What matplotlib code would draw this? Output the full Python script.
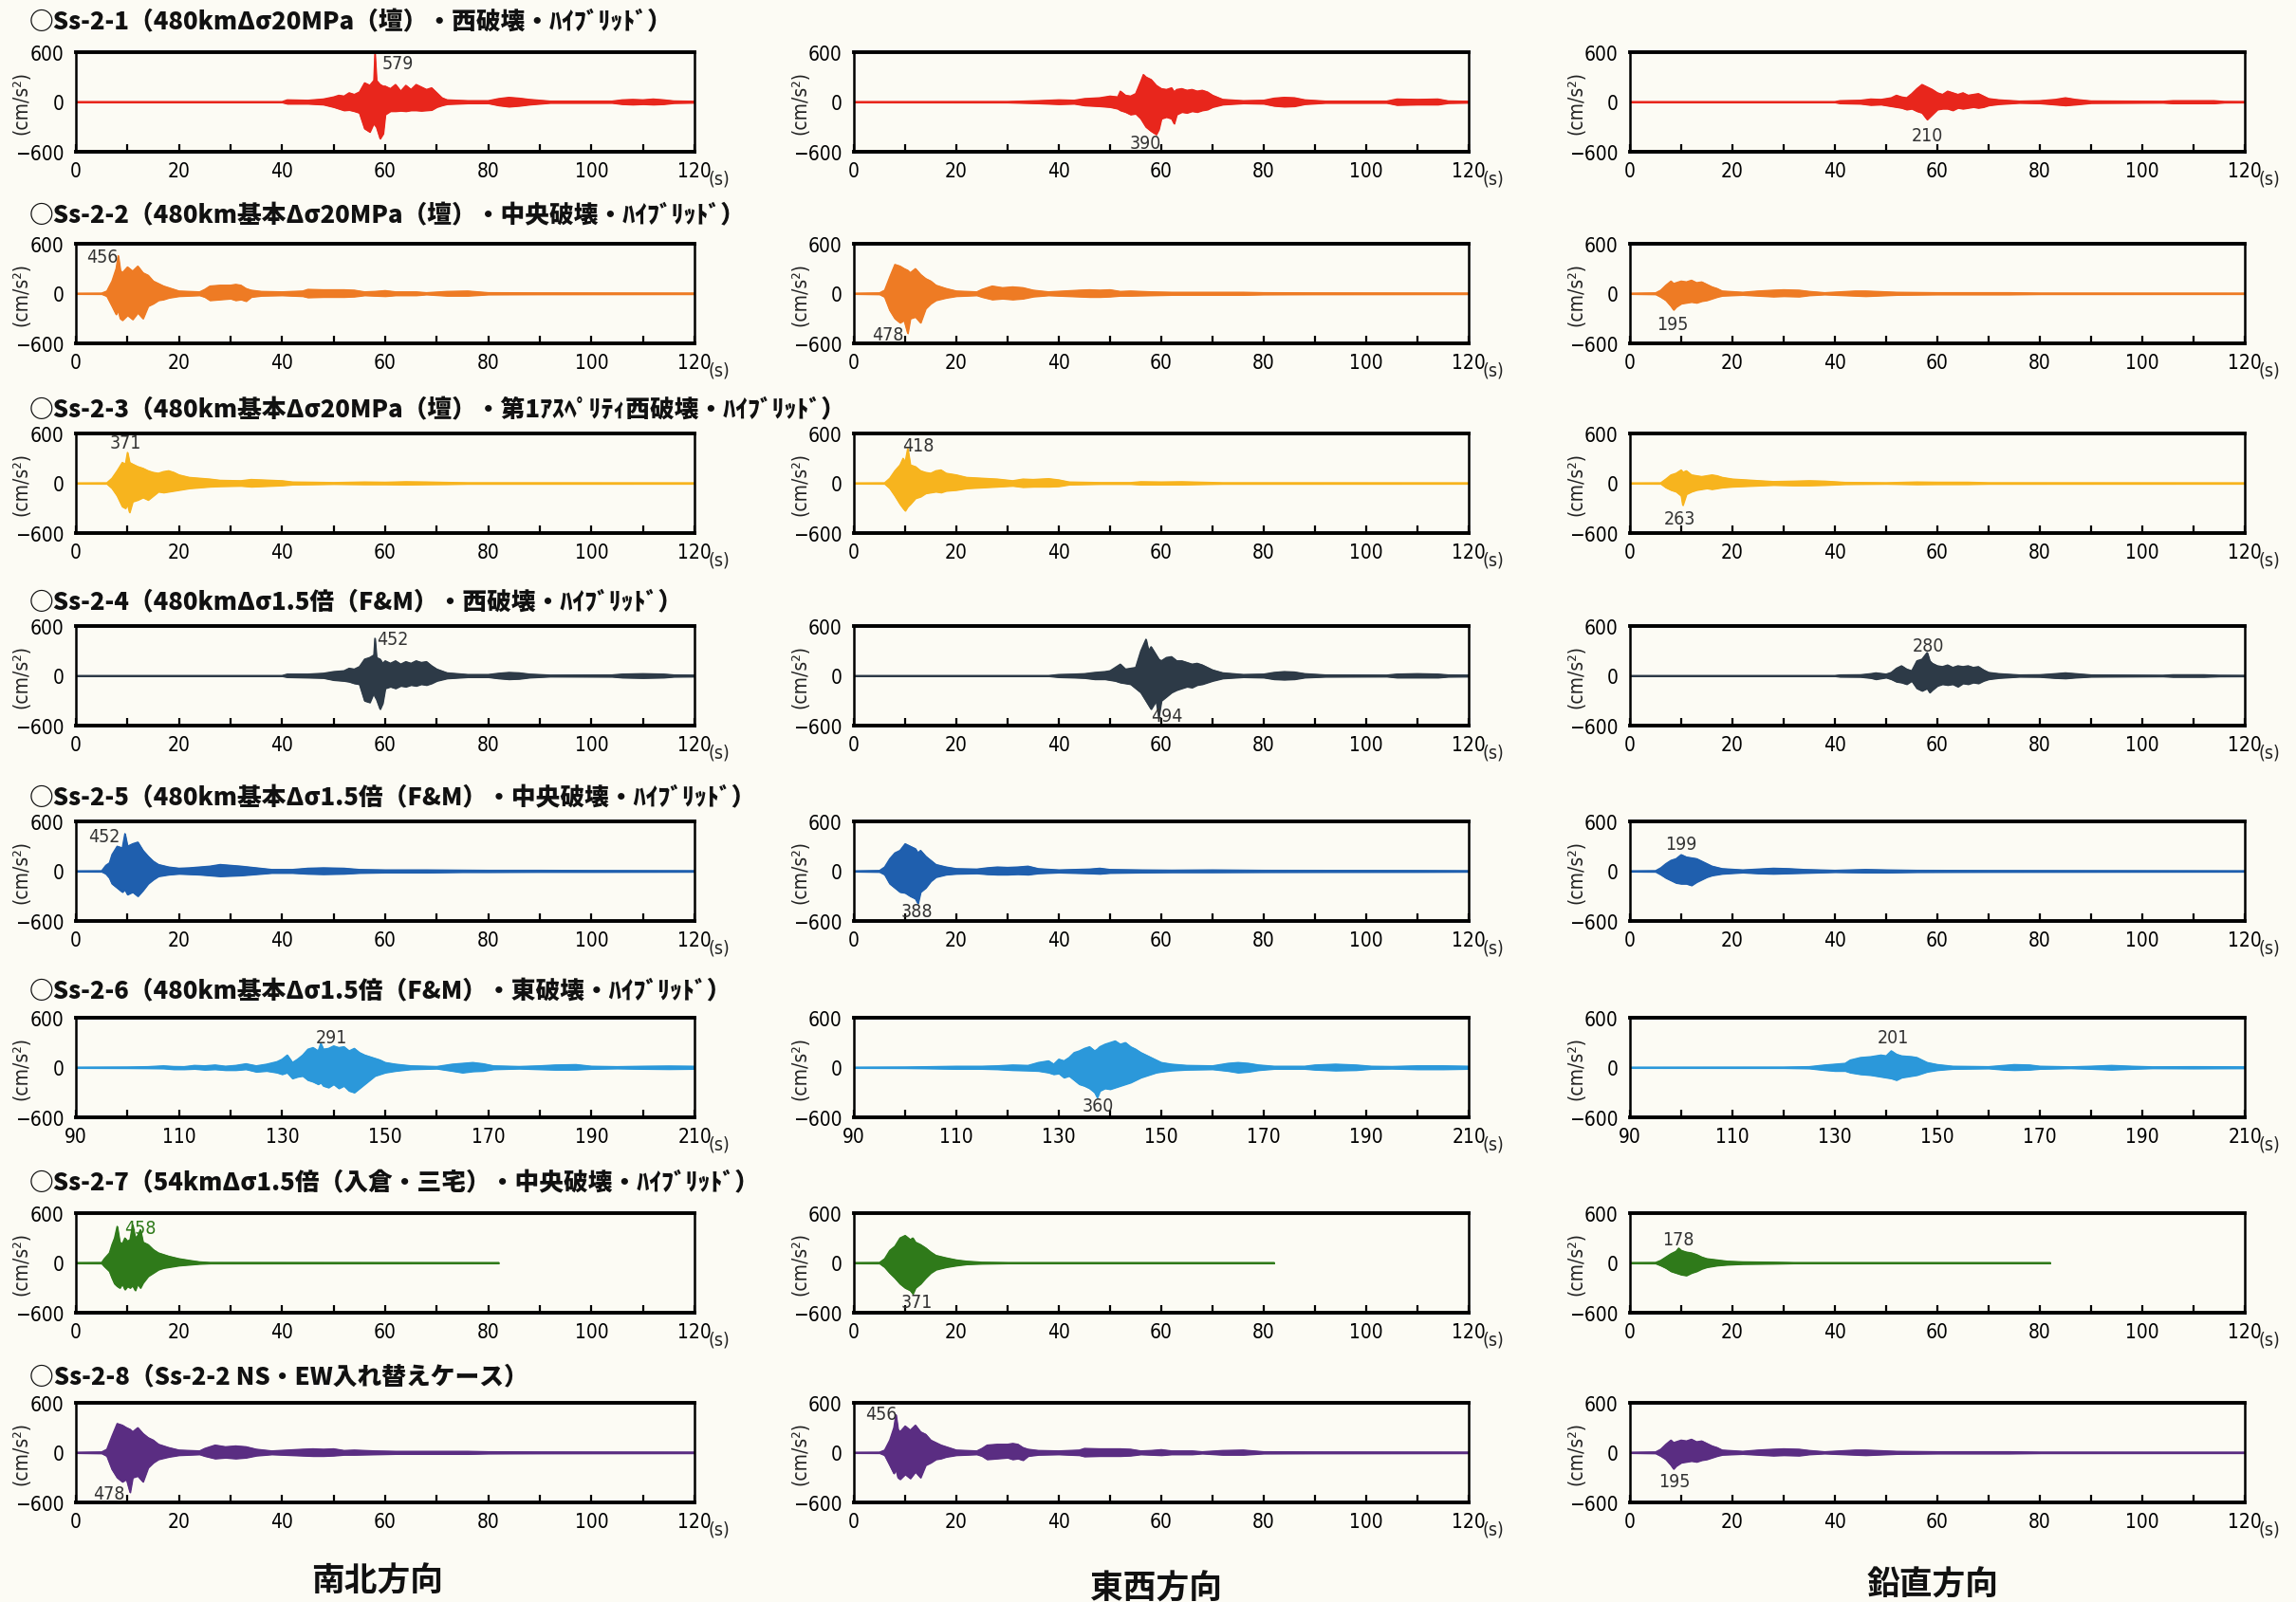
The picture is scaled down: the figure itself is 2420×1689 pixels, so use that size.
import numpy as np
import matplotlib.pyplot as plt
from matplotlib import font_manager

# ---- data: envelope of each trace, rows of (time s, upper cm/s2, lower cm/s2) ----

ss1_ns = [(0, 4, -4), (40, 4, -4), (41, 25, -20), (45, 20, -20), (48, 35, -30), (50, 60, -60), (51, 80, -80),
          (52, 70, -100), (53, 110, -95), (54, 90, -110), (55, 120, -130), (56, 230, -320), (57, 200, -360),
          (57.8, 260, -250), (58, 579, -280), (58.3, 260, -300), (59, 210, -440), (59.6, 190, -380),
          (60, 190, -150), (61, 160, -110), (62, 210, -110), (63, 130, -105), (64, 200, -110), (65, 150, -100),
          (66, 210, -100), (67, 180, -105), (68, 150, -100), (69, 170, -95), (70, 110, -60), (71, 50, -40),
          (72, 25, -25), (76, 15, -15), (80, 15, -15), (82, 40, -40), (84, 55, -55), (86, 45, -45), (88, 30, -30),
          (92, 10, -10), (104, 10, -10), (106, 25, -25), (108, 30, -30), (110, 25, -25), (112, 35, -30),
          (114, 25, -25), (116, 12, -12), (120, 8, -8)]
ss1_ew = [(0, 4, -4), (30, 5, -5), (36, 15, -15), (40, 25, -25), (43, 20, -20), (45, 40, -40), (48, 50, -50),
          (50, 70, -60), (51.5, 60, -80), (52, 130, -100), (53, 80, -120), (54, 70, -150), (55, 100, -140),
          (56, 250, -200), (56.5, 330, -250), (57, 300, -300), (58, 270, -350), (59, 200, -390), (59.5, 180, -330),
          (60, 160, -200), (61, 150, -180), (62, 170, -200), (62.5, 120, -260), (63, 150, -150), (64, 160, -120),
          (65, 140, -130), (66, 150, -110), (67, 130, -120), (68, 140, -100), (69, 120, -90), (70, 80, -60),
          (72, 30, -30), (76, 15, -15), (80, 20, -20), (82, 45, -45), (84, 55, -55), (86, 50, -50), (88, 25, -25),
          (92, 10, -10), (104, 10, -10), (106, 35, -35), (110, 30, -30), (114, 35, -30), (116, 12, -12),
          (120, 8, -8)]
ss1_ud = [(0, 4, -4), (40, 4, -4), (41, 15, -15), (45, 20, -20), (47, 35, -35), (49, 30, -30), (51, 50, -50),
          (52, 80, -60), (53, 60, -70), (54, 50, -90), (55, 100, -80), (56, 160, -110), (57, 210, -130),
          (58, 180, -210), (59, 150, -150), (60, 110, -90), (61, 90, -80), (62, 130, -80), (63, 110, -100),
          (64, 90, -70), (65, 110, -80), (66, 80, -70), (67, 90, -60), (68, 100, -70), (69, 70, -60), (70, 40, -40),
          (72, 25, -25), (76, 10, -10), (80, 15, -15), (83, 30, -30), (85, 50, -40), (87, 30, -30), (90, 12, -12),
          (104, 8, -8), (106, 15, -15), (110, 15, -15), (114, 15, -15), (116, 6, -6), (120, 5, -5)]

ss2_ns = [(0, 4, -4), (5, 5, -5), (6, 30, -30), (7, 150, -150), (7.8, 300, -250), (8.2, 456, -200),
          (8.6, 280, -300), (9, 250, -320), (10, 320, -260), (11, 270, -310), (12, 330, -230), (13, 250, -300),
          (14, 220, -150), (15, 150, -120), (16, 120, -80), (17, 90, -70), (18, 70, -50), (20, 30, -30),
          (24, 20, -20), (25, 50, -40), (26, 90, -80), (28, 100, -70), (30, 100, -60), (31, 110, -80),
          (32, 100, -70), (33, 60, -90), (34, 40, -40), (36, 25, -25), (40, 20, -20), (44, 30, -30), (45, 50, -45),
          (48, 45, -40), (52, 45, -40), (54, 40, -35), (56, 20, -20), (58, 25, -25), (60, 35, -30), (62, 20, -20),
          (66, 20, -20), (68, 10, -10), (72, 25, -25), (76, 30, -25), (80, 10, -10), (90, 8, -8), (120, 6, -6)]
ss2_ew = [(0, 4, -4), (5, 8, -8), (6, 40, -40), (7, 200, -200), (8, 350, -300), (9, 330, -350), (9.8, 300, -320),
          (10.5, 280, -478), (11, 250, -300), (12, 300, -280), (13, 230, -350), (14, 180, -180), (15, 150, -120),
          (16, 100, -80), (18, 60, -50), (20, 30, -30), (24, 20, -20), (25, 50, -40), (27, 90, -70), (29, 70, -60),
          (31, 80, -70), (33, 70, -60), (35, 40, -35), (38, 20, -20), (44, 40, -35), (46, 45, -40), (48, 40, -40),
          (50, 45, -35), (52, 25, -25), (54, 30, -25), (58, 20, -20), (62, 15, -15), (70, 15, -15), (76, 15, -15),
          (80, 10, -10), (90, 8, -8), (120, 6, -6)]
ss2_ud = [(0, 4, -4), (5, 8, -8), (6, 40, -40), (7, 100, -80), (8, 150, -150), (8.5, 120, -195), (9, 130, -160),
          (10, 150, -120), (11, 140, -110), (12, 160, -100), (13, 130, -110), (14, 140, -90), (15, 110, -80),
          (16, 80, -60), (17, 60, -40), (18, 30, -25), (22, 15, -15), (25, 30, -25), (28, 40, -35), (30, 45, -30),
          (33, 40, -35), (35, 25, -20), (38, 10, -10), (44, 30, -25), (46, 30, -30), (48, 25, -25), (52, 15, -15),
          (60, 10, -10), (74, 10, -10), (80, 6, -6), (120, 5, -5)]

ss3_ns = [(0, 4, -4), (6, 5, -5), (7, 60, -60), (8, 150, -150), (9, 250, -280), (9.6, 230, -300), (10, 371, -250),
          (10.4, 250, -350), (11, 230, -220), (12, 200, -200), (13, 180, -170), (14, 150, -200), (15, 130, -150),
          (16, 120, -100), (17, 140, -110), (18, 150, -100), (19, 130, -90), (20, 100, -80), (22, 70, -60),
          (24, 60, -50), (26, 50, -40), (28, 35, -35), (32, 30, -30), (34, 45, -40), (36, 40, -35), (40, 30, -25),
          (42, 15, -15), (46, 12, -12), (50, 8, -8), (56, 15, -12), (60, 12, -12), (64, 18, -15), (68, 15, -12),
          (72, 10, -10), (76, 6, -6), (120, 5, -5)]
ss3_ew = [(0, 4, -4), (6, 5, -5), (7, 60, -60), (8, 150, -150), (9, 220, -250), (9.6, 300, -300), (10, 250, -330),
          (10.5, 418, -280), (11, 220, -250), (12, 200, -180), (13, 150, -160), (14, 130, -120), (15, 120, -110),
          (16, 150, -100), (17, 160, -110), (18, 120, -90), (20, 100, -80), (22, 70, -60), (25, 60, -50),
          (28, 50, -40), (31, 30, -30), (33, 50, -45), (35, 45, -40), (38, 55, -40), (40, 40, -35), (42, 15, -15),
          (48, 8, -8), (54, 8, -8), (56, 18, -15), (60, 15, -15), (64, 18, -15), (68, 12, -10), (72, 6, -6),
          (120, 5, -5)]
ss3_ud = [(0, 4, -4), (6, 5, -5), (7, 50, -50), (8, 100, -80), (9, 120, -100), (10, 160, -150), (10.3, 130, -263),
          (11, 150, -130), (12, 100, -100), (13, 90, -80), (14, 80, -70), (15, 90, -60), (16, 100, -70),
          (17, 90, -60), (18, 70, -50), (20, 50, -40), (24, 35, -30), (28, 20, -20), (32, 25, -25), (35, 30, -25),
          (38, 25, -20), (42, 10, -10), (50, 6, -6), (56, 15, -12), (60, 12, -10), (66, 12, -10), (70, 6, -6),
          (120, 5, -5)]

ss4_ns = [(0, 3, -3), (40, 3, -3), (41, 20, -15), (45, 20, -20), (48, 30, -25), (50, 50, -50), (52, 60, -60),
          (53, 90, -70), (54, 80, -90), (55, 110, -100), (56, 200, -300), (57, 220, -320), (57.8, 250, -200),
          (58, 452, -250), (58.3, 220, -280), (59, 200, -400), (59.5, 150, -330), (60, 180, -150), (61, 150, -130),
          (62, 180, -150), (63, 140, -120), (64, 170, -130), (65, 150, -110), (66, 180, -120), (67, 160, -100),
          (68, 170, -110), (69, 120, -90), (70, 80, -60), (72, 35, -30), (76, 15, -15), (80, 15, -15),
          (82, 30, -30), (84, 40, -40), (86, 35, -35), (88, 20, -20), (92, 8, -8), (104, 10, -10), (106, 20, -20),
          (110, 25, -25), (114, 20, -20), (116, 10, -10), (120, 8, -8)]
ss4_ew = [(0, 3, -3), (38, 3, -3), (40, 15, -15), (43, 20, -20), (45, 25, -25), (47, 40, -40), (49, 50, -40),
          (50, 60, -50), (51, 100, -60), (52, 140, -80), (53, 80, -90), (54, 90, -100), (55, 100, -150),
          (56, 300, -200), (57, 440, -300), (57.5, 300, -350), (58, 350, -400), (59, 250, -300), (59.5, 200, -494),
          (60, 180, -300), (61, 220, -250), (62, 230, -200), (63, 180, -170), (64, 180, -150), (65, 160, -130),
          (66, 140, -140), (67, 150, -110), (68, 130, -100), (69, 100, -80), (70, 70, -60), (72, 35, -30),
          (76, 15, -15), (80, 20, -20), (82, 40, -40), (84, 50, -45), (86, 45, -40), (88, 25, -20), (92, 10, -10),
          (104, 8, -8), (106, 20, -20), (110, 25, -20), (114, 20, -20), (116, 10, -10), (120, 8, -8)]
ss4_ud = [(0, 3, -3), (40, 3, -3), (41, 10, -10), (45, 12, -12), (47, 25, -25), (48, 35, -40), (50, 20, -20),
          (51, 40, -40), (52, 90, -70), (53, 120, -80), (54, 80, -100), (55, 60, -60), (56, 180, -150),
          (57, 200, -180), (58, 280, -150), (58.5, 180, -200), (59, 150, -170), (60, 120, -120), (61, 110, -100),
          (62, 130, -110), (63, 100, -100), (64, 120, -130), (65, 110, -90), (66, 120, -100), (67, 100, -80),
          (68, 110, -90), (69, 70, -60), (70, 40, -40), (72, 25, -25), (76, 10, -10), (80, 12, -12), (83, 25, -25),
          (85, 35, -30), (87, 25, -20), (90, 10, -10), (104, 6, -6), (106, 12, -12), (112, 12, -12), (115, 6, -6),
          (120, 5, -5)]

ss5_ns = [(0, 4, -4), (5, 5, -5), (5.8, 70, -30), (6.5, 100, -80), (7, 200, -150), (8, 300, -200), (9, 280, -250),
          (9.5, 452, -220), (10, 300, -280), (11, 330, -250), (12, 350, -300), (13, 250, -230), (14, 180, -150),
          (15, 120, -100), (16, 80, -60), (18, 50, -40), (20, 35, -30), (22, 40, -35), (24, 50, -40), (26, 60, -50),
          (28, 80, -60), (30, 70, -55), (32, 60, -50), (35, 40, -35), (38, 20, -20), (42, 20, -20), (45, 35, -30),
          (48, 40, -35), (52, 35, -30), (55, 20, -20), (60, 15, -15), (68, 15, -15), (75, 12, -10), (80, 10, -10),
          (90, 10, -8), (100, 8, -8), (120, 6, -6)]
ss5_ew = [(0, 4, -4), (5, 8, -8), (6, 50, -40), (7, 150, -150), (8, 220, -200), (9, 250, -250), (10, 330, -260),
          (11, 300, -300), (12, 270, -330), (12.5, 220, -388), (13, 250, -250), (14, 180, -200), (15, 130, -120),
          (16, 80, -70), (18, 50, -40), (20, 30, -30), (24, 25, -25), (26, 40, -35), (28, 50, -40), (30, 45, -40),
          (32, 50, -35), (34, 60, -40), (36, 30, -25), (40, 15, -15), (46, 25, -25), (48, 35, -30), (50, 20, -20),
          (56, 15, -15), (62, 12, -12), (70, 15, -12), (80, 10, -10), (110, 8, -8), (120, 6, -6)]
ss5_ud = [(0, 4, -4), (5, 6, -6), (6, 40, -40), (7, 90, -80), (8, 130, -110), (9, 150, -140), (10, 199, -150),
          (11, 170, -150), (12, 160, -170), (13, 150, -130), (14, 120, -100), (15, 90, -70), (16, 60, -50),
          (18, 30, -30), (22, 15, -15), (25, 25, -25), (28, 35, -30), (31, 30, -25), (34, 20, -20), (40, 10, -10),
          (46, 20, -15), (50, 15, -15), (56, 10, -10), (70, 8, -8), (120, 5, -5)]

ss6_ns = [(90, 4, -4), (100, 6, -6), (104, 10, -8), (107, 20, -10), (109, 12, -20), (111, 10, -20), (113, 25, -15),
          (115, 20, -25), (117, 30, -20), (119, 15, -30), (121, 25, -30), (123, 45, -20), (125, 20, -50),
          (127, 40, -40), (129, 70, -60), (130, 100, -80), (131, 150, -60), (132, 60, -130), (133, 100, -110),
          (134, 150, -100), (135, 220, -150), (136, 240, -170), (137, 200, -200), (137.5, 291, -180),
          (138, 220, -220), (139, 230, -240), (140, 260, -200), (141, 240, -250), (142, 250, -220), (143, 200, -280),
          (144, 230, -300), (145, 180, -250), (146, 150, -200), (147, 130, -150), (148, 110, -100), (149, 90, -80),
          (150, 60, -60), (152, 40, -40), (155, 20, -20), (160, 12, -12), (163, 40, -40), (165, 50, -60),
          (167, 60, -45), (169, 45, -40), (171, 20, -20), (176, 12, -12), (180, 20, -20), (183, 30, -25),
          (187, 35, -25), (190, 15, -15), (195, 10, -10), (200, 15, -15), (205, 18, -18), (210, 15, -15)]
ss6_ew = [(90, 4, -4), (100, 6, -6), (105, 10, -10), (110, 15, -15), (115, 15, -15), (118, 20, -20),
          (121, 30, -30), (124, 25, -35), (126, 60, -40), (128, 80, -60), (129, 40, -80), (130, 100, -70),
          (131, 80, -120), (132, 120, -100), (133, 180, -150), (134, 200, -200), (135, 230, -220), (136, 250, -250),
          (137, 200, -300), (137.5, 220, -360), (138, 250, -280), (139, 280, -250), (140, 300, -260),
          (141, 320, -240), (142, 280, -220), (143, 300, -200), (144, 250, -180), (145, 220, -150), (146, 180, -120),
          (147, 150, -100), (148, 120, -80), (149, 90, -60), (150, 60, -50), (152, 40, -35), (155, 25, -25),
          (160, 20, -20), (163, 50, -40), (165, 60, -60), (167, 50, -50), (169, 30, -30), (172, 15, -15),
          (178, 15, -15), (180, 30, -25), (184, 40, -35), (188, 30, -30), (191, 15, -15), (195, 12, -12),
          (200, 20, -20), (205, 20, -20), (210, 15, -15)]
ss6_ud = [(90, 4, -4), (120, 5, -5), (125, 10, -10), (128, 30, -30), (130, 40, -40), (132, 50, -40), (133, 90, -60),
          (135, 120, -80), (137, 130, -90), (139, 150, -110), (140, 140, -120), (141, 201, -130), (142, 160, -150),
          (143, 140, -120), (145, 130, -100), (146, 120, -90), (147, 90, -70), (148, 60, -50), (150, 35, -30),
          (153, 15, -15), (160, 10, -10), (163, 25, -25), (165, 35, -30), (168, 30, -25), (170, 15, -15),
          (176, 8, -8), (180, 15, -15), (184, 25, -25), (188, 15, -15), (192, 8, -8), (200, 10, -10), (210, 8, -8)]

ss7_ns = [(0, 4, -4), (5, 5, -5), (5.5, 50, -40), (6.5, 120, -100), (7, 220, -180), (7.5, 300, -250),
          (8, 440, -280), (8.5, 250, -300), (9, 230, -250), (9.5, 300, -320), (10, 260, -280), (10.5, 280, -300),
          (11, 458, -270), (11.5, 300, -330), (12, 330, -250), (12.5, 400, -300), (13, 250, -240), (14, 220, -160),
          (15, 160, -120), (16, 120, -80), (17, 100, -60), (18, 80, -50), (20, 50, -30), (22, 30, -20),
          (24, 12, -10), (26, 5, -5), (82, 4, -4)]
ss7_ew = [(0, 4, -4), (5, 5, -5), (6, 50, -50), (7, 150, -120), (8, 200, -180), (9, 300, -250), (10, 330, -300),
          (11, 280, -330), (11.5, 300, -371), (12, 250, -300), (13, 220, -250), (14, 180, -180), (15, 130, -120),
          (16, 90, -80), (18, 60, -50), (20, 35, -30), (22, 20, -15), (25, 8, -8), (30, 4, -4), (82, 4, -4)]
ss7_ud = [(0, 4, -4), (5, 5, -5), (6, 30, -30), (7, 70, -60), (8, 110, -100), (9, 140, -120), (9.5, 178, -130),
          (10, 150, -140), (11, 130, -150), (12, 120, -120), (13, 100, -100), (14, 70, -70), (15, 50, -50),
          (17, 35, -30), (19, 20, -20), (22, 12, -12), (28, 8, -8), (32, 4, -4), (82, 4, -4)]

# Ss-2-8 is Ss-2-2 with NS and EW swapped
traces = [[ss1_ns, ss1_ew, ss1_ud],
          [ss2_ns, ss2_ew, ss2_ud],
          [ss3_ns, ss3_ew, ss3_ud],
          [ss4_ns, ss4_ew, ss4_ud],
          [ss5_ns, ss5_ew, ss5_ud],
          [ss6_ns, ss6_ew, ss6_ud],
          [ss7_ns, ss7_ew, ss7_ud],
          [ss2_ew, ss2_ns, ss2_ud]]

peaks = [[579, 390, 210], [456, 478, 195], [371, 418, 263], [452, 494, 280],
         [452, 388, 199], [291, 360, 201], [458, 371, 178], [478, 456, 195]]

titles = ['○Ss-2-1（480kmΔσ20MPa（壇）・西破壊・ﾊｲﾌﾞﾘｯﾄﾞ）',
          '○Ss-2-2（480km基本Δσ20MPa（壇）・中央破壊・ﾊｲﾌﾞﾘｯﾄﾞ）',
          '○Ss-2-3（480km基本Δσ20MPa（壇）・第1ｱｽﾍﾟﾘﾃｨ西破壊・ﾊｲﾌﾞﾘｯﾄﾞ）',
          '○Ss-2-4（480kmΔσ1.5倍（F&M）・西破壊・ﾊｲﾌﾞﾘｯﾄﾞ）',
          '○Ss-2-5（480km基本Δσ1.5倍（F&M）・中央破壊・ﾊｲﾌﾞﾘｯﾄﾞ）',
          '○Ss-2-6（480km基本Δσ1.5倍（F&M）・東破壊・ﾊｲﾌﾞﾘｯﾄﾞ）',
          '○Ss-2-7（54kmΔσ1.5倍（入倉・三宅）・中央破壊・ﾊｲﾌﾞﾘｯﾄﾞ）',
          '○Ss-2-8（Ss-2-2 NS・EW入れ替えケース）']
col_names = ['南北方向', '東西方向', '鉛直方向']
x_ranges = [(0, 120)] * 5 + [(90, 210)] + [(0, 120)] * 2

# ---- layout / style ----
colors = ['#e8261c', '#ee7b24', '#f7b41e', '#2d3a47', '#1f5fae', '#2b98da', '#2f7a1a', '#5a2d82']

# peak label positions (time, value) per panel
label_pos = [[(59.3, 470, 'left'), (57, -495, 'center'), (58, -400, 'center')],
             [(5.1, 445, 'center'), (6.6, -497, 'center'), (8.3, -370, 'center')],
             [(9.7, 490, 'center'), (12.6, 455, 'center'), (9.7, -418, 'center')],
             [(61.4, 441, 'center'), (61.1, -476, 'center'), (58.3, 370, 'center')],
             [(5.4, 424, 'center'), (12.3, -476, 'center'), (10, 327, 'center')],
             [(139.5, 370, 'center'), (137.7, -459, 'center'), (141.4, 364, 'center')],
             [(12.5, 418, 'center'), (12.3, -463, 'center'), (9.4, 291, 'center')],
             [(6.5, -494, 'center'), (5.4, 469, 'center'), (8.6, -343, 'center')]]

W, H = 2420, 1690
col_left = [80, 900, 1718]
col_w = [652, 648, 648]
row_top = [56, 258, 458, 661, 867, 1074, 1280, 1480]
row_h = 105
title_y = [23, 227, 432, 634, 841, 1045, 1247, 1451]
paper = '#fcfbf4'

jp = ['Noto Sans CJK JP', 'DejaVu Sans']


def has_font(name):
    try:
        font_manager.findfont(font_manager.FontProperties(family=name), fallback_to_default=False)
        return True
    except Exception:
        return False


if has_font('Liberation Sans Narrow'):
    num_font = dict(family='Liberation Sans Narrow')
else:
    num_font = dict(family='DejaVu Sans', stretch='condensed')

fig = plt.figure(figsize=(W / 100, H / 100), dpi=100, facecolor=paper)

for r in range(8):
    fig.text(31 / W, 1 - title_y[r] / H, titles[r], family=jp, weight='heavy', fontsize=18.5,
             ha='left', va='center', color='#111111')
    for c in range(3):
        ax = fig.add_axes([col_left[c] / W, 1 - (row_top[r] + row_h) / H, col_w[c] / W, row_h / H])
        ax.set_facecolor(paper)
        env = np.array(traces[r][c], dtype=float)
        t, up, lo = env[:, 0], env[:, 1], env[:, 2]
        col = colors[r]
        ax.fill_between(t, lo, up, color=col, linewidth=1.0, edgecolor=col)
        ax.plot(t, up, color=col, lw=1.0)
        ax.plot(t, lo, color=col, lw=1.0)

        x0, x1 = x_ranges[r]
        ax.set_xlim(x0, x1)
        ax.set_ylim(-600, 600)
        ax.set_yticks([-600, 0, 600])
        ax.set_xticks(np.arange(x0, x1 + 1, 20))
        ax.set_xticks(np.arange(x0, x1 + 1, 10), minor=True)
        ax.tick_params(axis='x', which='both', direction='in', length=6, width=1.6, pad=7, top=False)
        ax.tick_params(axis='y', length=0, pad=9)
        for lab in ax.get_xticklabels() + ax.get_yticklabels():
            lab.set_fontsize(15)
            lab.set_fontfamily(num_font['family'])
            if 'stretch' in num_font:
                lab.set_fontstretch(num_font['stretch'])
        for side in ['top', 'bottom']:
            ax.spines[side].set_linewidth(2.8)
        for side in ['left', 'right']:
            ax.spines[side].set_linewidth(1.8)

        ax.text(-0.088, 0.5, '(cm/s²)', transform=ax.transAxes, rotation=90, ha='center', va='center',
                fontsize=15, color='#222222', **num_font)
        ax.text(1.022, -0.27, '(s)', transform=ax.transAxes, ha='left', va='center',
                fontsize=14, color='#222222', **num_font)

        lx, ly, lha = label_pos[r][c]
        lcol = col if r == 6 and c == 0 else '#333333'
        ax.text(lx, ly, str(peaks[r][c]), ha=lha, va='center', fontsize=14, color=lcol, **num_font)

label_xy = [(398, 1667), (1219, 1675), (2037, 1671)]
for name, (x, y) in zip(col_names, label_xy):
    fig.text(x / W, 1 - y / H, name, family=jp, weight='bold', fontsize=25, ha='center', va='center',
             color='#111111')

fig.savefig('out.png', dpi=100, facecolor=paper)
